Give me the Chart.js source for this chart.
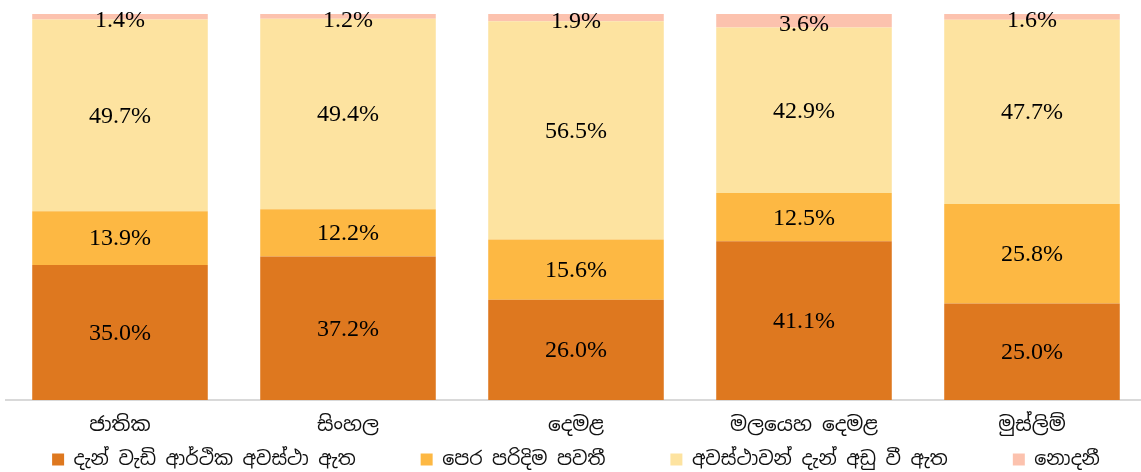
<!DOCTYPE html>
<html>
<head>
<meta charset="utf-8">
<script src="https://cdn.jsdelivr.net/npm/chart.js@4"></script>
<style>
    html, body { margin: 0; padding: 0; background: #fff; overflow: hidden; }
    #wrap { width: 1146px; height: 480px; }
</style>
</head>
<body>
<div id="wrap"><canvas id="shareChart"></canvas></div>
<script>
// Categories and series (percent)
var groups = ['ජාතික', 'සිංහල', 'දෙමළ', 'මලයෙහ දෙමළ', 'මුස්ලිම්'];
var seriesNames = ['දැන් වැඩි ආර්ථික අවස්ථා ඇත', 'පෙර පරිදිම පවතී', 'අවස්ථාවන් දැන් අඩු වී ඇත', 'නොදනී'];
var moreNow = [35.0, 37.2, 26.0, 41.1, 25.0];
var sameAsBefore = [13.9, 12.2, 15.6, 12.5, 25.8];
var fewerNow = [49.7, 49.4, 56.5, 42.9, 47.7];
var dontKnow = [1.4, 1.2, 1.9, 3.6, 1.6];
var colours = ['#DE781F', '#FDB843', '#FDE3A0', '#FCC2AE'];

var sinhalaFont = "'Noto Sans Sinhala', 'Iskoola Pota', 'Noto Sans', sans-serif";

// Draw the value in the middle of every segment
var valueLabels = {
    id: 'valueLabels',
    afterDatasetsDraw: function (chart) {
        var ctx = chart.ctx;
        ctx.save();
        ctx.font = '24px "Liberation Serif", "Times New Roman", serif';
        ctx.fillStyle = '#000';
        ctx.textAlign = 'center';
        ctx.textBaseline = 'middle';
        chart.data.datasets.forEach(function (ds, i) {
            chart.getDatasetMeta(i).data.forEach(function (bar, j) {
                var mid = (bar.y + bar.base) / 2;
                if (i === 3) mid += 3;
                ctx.fillText(ds.data[j].toFixed(1) + '%', bar.x, mid + 1);
            });
        });
        ctx.restore();
    }
};

var allSeries = [moreNow, sameAsBefore, fewerNow, dontKnow];

new Chart(document.getElementById('shareChart'), {
    type: 'bar',
    data: {
        labels: groups,
        datasets: allSeries.map(function (vals, i) {
            return {
                label: seriesNames[i],
                data: vals,
                backgroundColor: colours[i],
                borderWidth: 0,
                categoryPercentage: 0.77,
                barPercentage: 1.0
            };
        })
    },
    options: {
        responsive: true,
        maintainAspectRatio: false,
        animation: false,
        layout: { padding: { left: 6, right: 0, top: 14, bottom: 1 } },
        scales: {
            x: {
                stacked: true,
                grid: { display: false },
                border: { display: true, color: '#d9d9d9', width: 2 },
                ticks: { color: '#111', font: { family: sinhalaFont, size: 20 }, padding: 5 }
            },
            y: {
                stacked: true,
                display: false,
                min: 0,
                max: 100
            }
        },
        plugins: {
            tooltip: { enabled: false },
            legend: {
                position: 'bottom',
                labels: {
                    color: '#111',
                    boxWidth: 12,
                    boxHeight: 12,
                    padding: 8,
                    font: { family: sinhalaFont, size: 19 },
                    // wider gaps between the items, like the original
                    generateLabels: function (chart) {
                        var items = Chart.defaults.plugins.legend.labels.generateLabels(chart);
                        items.forEach(function (it, k) {
                            if (k < items.length - 1) it.text = it.text + '\u2003\u2003\u2003';
                        });
                        return items;
                    }
                }
            }
        }
    },
    plugins: [valueLabels]
});
</script>
</body>
</html>
